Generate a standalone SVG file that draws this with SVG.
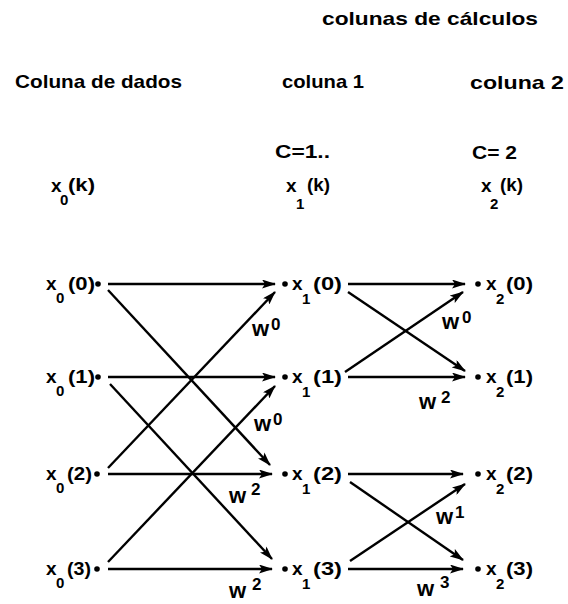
<svg xmlns="http://www.w3.org/2000/svg" width="568" height="604" viewBox="0 0 568 604">
<style>
.hdr{font-family:"Liberation Sans",Arial,sans-serif;font-weight:bold;font-size:19px;fill:#000}
.lbl{font-family:"Liberation Sans",Arial,sans-serif;font-weight:bold;font-size:19px;fill:#000}
.sub{font-family:"Liberation Sans",Arial,sans-serif;font-weight:bold;font-size:15px;fill:#000}
.w{font-family:"Liberation Sans",Arial,sans-serif;font-weight:bold;font-size:22px;fill:#000}
.sup{font-family:"Liberation Sans",Arial,sans-serif;font-weight:bold;font-size:17px;fill:#000}
.arr{stroke:#000;stroke-width:2.4;fill:none;marker-end:url(#ah)}
.dot{fill:#000}
</style>
<defs>
<marker id="ah" markerUnits="userSpaceOnUse" markerWidth="14" markerHeight="9" refX="13" refY="4.5" orient="auto">
<path d="M0,0 L14,4.5 L0,9 L3,4.5 z" fill="#000"/>
</marker>
</defs>
<rect width="568" height="604" fill="#fff"/>

<g id="headers">
<text class="hdr" x="322" y="25" textLength="216" lengthAdjust="spacingAndGlyphs">colunas de cálculos</text>
<text class="hdr" x="15" y="88" textLength="167" lengthAdjust="spacingAndGlyphs">Coluna de dados</text>
<text class="hdr" x="282" y="88" textLength="82" lengthAdjust="spacingAndGlyphs">coluna 1</text>
<text class="hdr" x="470" y="89" textLength="94" lengthAdjust="spacingAndGlyphs">coluna 2</text>
<text class="lbl" x="275" y="158" textLength="55" lengthAdjust="spacingAndGlyphs">C=1..</text>
<text class="lbl" x="472" y="159" textLength="45" lengthAdjust="spacingAndGlyphs">C= 2</text>
</g>

<g id="col-heads">
<text class="lbl" x="51" y="192">x</text><text class="sub" x="60" y="205">0</text><text class="lbl" x="68" y="191" textLength="27" lengthAdjust="spacingAndGlyphs">(k)</text>
<text class="lbl" x="286" y="192">x</text><text class="sub" x="296" y="209">1</text><text class="lbl" x="307" y="191" textLength="23" lengthAdjust="spacingAndGlyphs">(k)</text>
<text class="lbl" x="481" y="192">x</text><text class="sub" x="490" y="209">2</text><text class="lbl" x="500" y="191" textLength="23" lengthAdjust="spacingAndGlyphs">(k)</text>
</g>

<g id="connectors">
<line class="arr" x1="108" y1="284" x2="275" y2="284"/>
<line class="arr" x1="108" y1="377" x2="275" y2="377"/>
<line class="arr" x1="108" y1="474" x2="272" y2="474"/>
<line class="arr" x1="108" y1="569" x2="272" y2="569"/>
<line class="arr" x1="108" y1="290" x2="270" y2="465"/>
<line class="arr" x1="110" y1="384" x2="272" y2="559"/>
<line class="arr" x1="108" y1="468" x2="275" y2="292"/>
<line class="arr" x1="108" y1="562" x2="275" y2="386"/>
<line class="arr" x1="348" y1="284" x2="465" y2="284"/>
<line class="arr" x1="348" y1="377" x2="465" y2="377"/>
<line class="arr" x1="348" y1="474" x2="463" y2="474"/>
<line class="arr" x1="348" y1="569" x2="463" y2="569"/>
<line class="arr" x1="348" y1="292" x2="465" y2="371"/>
<line class="arr" x1="345" y1="372" x2="463" y2="292"/>
<line class="arr" x1="350" y1="482" x2="463" y2="560"/>
<line class="arr" x1="350" y1="561" x2="465" y2="484"/>
</g>

<g id="weights">
<text class="w" x="252" y="336">w</text><text class="sup" x="271" y="330">0</text>
<text class="w" x="254" y="431">w</text><text class="sup" x="273" y="425">0</text>
<text class="w" x="229" y="503">w</text><text class="sup" x="251" y="495">2</text>
<text class="w" x="229" y="598">w</text><text class="sup" x="252" y="590">2</text>
<text class="w" x="442" y="329">w</text><text class="sup" x="462" y="323">0</text>
<text class="w" x="419" y="409">w</text><text class="sup" x="441" y="403">2</text>
<text class="w" x="436" y="524">w</text><text class="sup" x="455" y="518">1</text>
<text class="w" x="417" y="596">w</text><text class="sup" x="440" y="588">3</text>
</g>

<g id="n-x0-0"><text class="lbl" x="46" y="290">x</text><text class="sub" x="56" y="303">0</text><text class="lbl" x="68" y="290" textLength="27" lengthAdjust="spacingAndGlyphs">(0)</text><circle class="dot" cx="98" cy="284" r="2.8"/></g>
<g id="n-x0-1"><text class="lbl" x="46" y="383">x</text><text class="sub" x="56" y="396">0</text><text class="lbl" x="68" y="383" textLength="27" lengthAdjust="spacingAndGlyphs">(1)</text><circle class="dot" cx="98" cy="377" r="2.8"/></g>
<g id="n-x0-2"><text class="lbl" x="46" y="480">x</text><text class="sub" x="56" y="493">0</text><text class="lbl" x="67" y="480" textLength="25" lengthAdjust="spacingAndGlyphs">(2)</text><circle class="dot" cx="97" cy="474" r="2.8"/></g>
<g id="n-x0-3"><text class="lbl" x="46" y="575">x</text><text class="sub" x="56" y="588">0</text><text class="lbl" x="67" y="575" textLength="24" lengthAdjust="spacingAndGlyphs">(3)</text><circle class="dot" cx="97" cy="569" r="2.8"/></g>

<g id="n-x1-0"><circle class="dot" cx="285" cy="284" r="2.8"/><text class="lbl" x="292" y="290">x</text><text class="sub" x="302" y="304">1</text><text class="lbl" x="313" y="290" textLength="29" lengthAdjust="spacingAndGlyphs">(0)</text></g>
<g id="n-x1-1"><circle class="dot" cx="285" cy="377" r="2.8"/><text class="lbl" x="292" y="383">x</text><text class="sub" x="302" y="397">1</text><text class="lbl" x="313" y="383" textLength="29" lengthAdjust="spacingAndGlyphs">(1)</text></g>
<g id="n-x1-2"><circle class="dot" cx="285" cy="474" r="2.8"/><text class="lbl" x="292" y="480">x</text><text class="sub" x="302" y="494">1</text><text class="lbl" x="313" y="480" textLength="29" lengthAdjust="spacingAndGlyphs">(2)</text></g>
<g id="n-x1-3"><circle class="dot" cx="285" cy="569" r="2.8"/><text class="lbl" x="292" y="575">x</text><text class="sub" x="302" y="589">1</text><text class="lbl" x="313" y="575" textLength="29" lengthAdjust="spacingAndGlyphs">(3)</text></g>

<g id="n-x2-0"><circle class="dot" cx="478" cy="284" r="2.8"/><text class="lbl" x="486" y="290">x</text><text class="sub" x="496" y="304">2</text><text class="lbl" x="506" y="290" textLength="27" lengthAdjust="spacingAndGlyphs">(0)</text></g>
<g id="n-x2-1"><circle class="dot" cx="478" cy="377" r="2.8"/><text class="lbl" x="486" y="383">x</text><text class="sub" x="496" y="397">2</text><text class="lbl" x="506" y="383" textLength="27" lengthAdjust="spacingAndGlyphs">(1)</text></g>
<g id="n-x2-2"><circle class="dot" cx="478" cy="474" r="2.8"/><text class="lbl" x="486" y="480">x</text><text class="sub" x="496" y="494">2</text><text class="lbl" x="506" y="480" textLength="27" lengthAdjust="spacingAndGlyphs">(2)</text></g>
<g id="n-x2-3"><circle class="dot" cx="478" cy="569" r="2.8"/><text class="lbl" x="486" y="575">x</text><text class="sub" x="496" y="589">2</text><text class="lbl" x="506" y="575" textLength="27" lengthAdjust="spacingAndGlyphs">(3)</text></g>
</svg>
